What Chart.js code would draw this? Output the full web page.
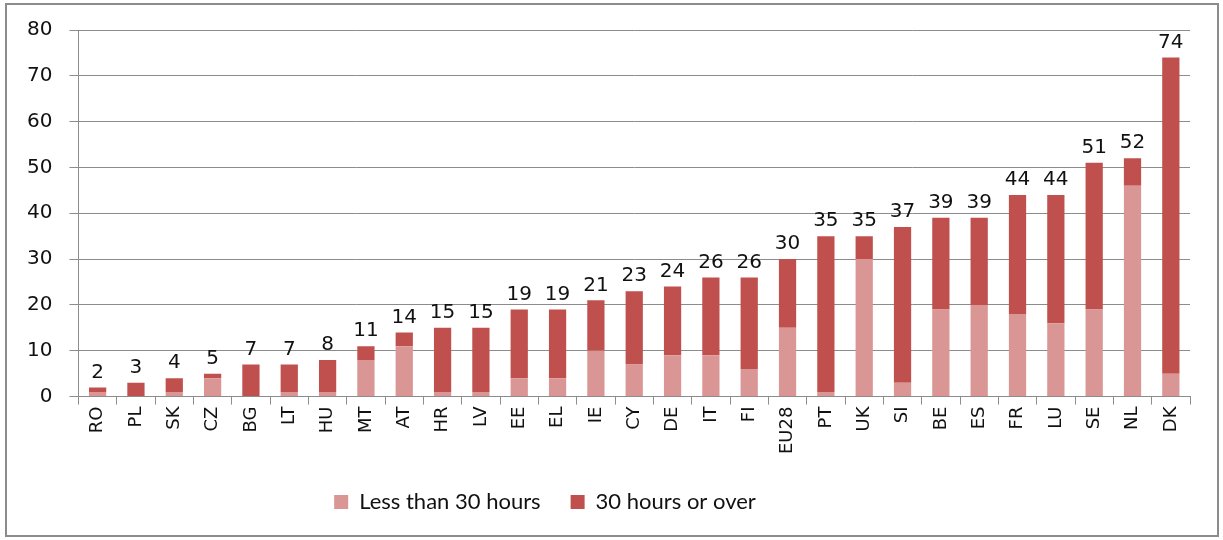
<!DOCTYPE html>
<html>
<head>
<meta charset="utf-8">
<script src="https://cdn.jsdelivr.net/npm/chart.js@4/dist/chart.umd.min.js"></script>
<style>
    html, body { margin: 0; padding: 0; background: #fff; }
    #wrap { position: relative; width: 1223px; height: 540px; }
    #frame { position: absolute; left: 5px; top: 3px; width: 1210px; height: 530px; border: 2px solid #8c8c8c; pointer-events: none; }
    canvas { position: absolute; left: 0; top: 0; }
</style>
</head>
<body>
<div id="wrap">
    <canvas id="chart" width="1223" height="540"></canvas>
    <div id="frame"></div>
</div>
<script>
const countries = ["RO", "PL", "SK", "CZ", "BG", "LT", "HU", "MT", "AT", "HR", "LV", "EE", "EL", "IE", "CY", "DE", "IT", "FI", "EU28", "PT", "UK", "SI", "BE", "ES", "FR", "LU", "SE", "NL", "DK"];
const totals = [2, 3, 4, 5, 7, 7, 8, 11, 14, 15, 15, 19, 19, 21, 23, 24, 26, 26, 30, 35, 35, 37, 39, 39, 44, 44, 51, 52, 74];
const lessThan30 = [1, 0, 1, 4, 0, 1, 1, 8, 11, 1, 1, 4, 4, 10, 7, 9, 9, 6, 15, 1, 30, 3, 19, 20, 18, 16, 19, 46, 5];
const thirtyOrOver = totals.map((t, i) => t - lessThan30[i]);
const yTicks = [0, 10, 20, 30, 40, 50, 60, 70, 80];

// total labels drawn above each stacked bar
const totalLabels = {
    id: 'totalLabels',
    afterDatasetsDraw(chart) {
        const ctx = chart.ctx;
        const meta = chart.getDatasetMeta(1);
        ctx.save();
        ctx.font = '20px "DejaVu Sans"';
        ctx.fillStyle = '#111';
        ctx.textAlign = 'center';
        ctx.textBaseline = 'bottom';
        meta.data.forEach((bar, i) => {
            ctx.fillText(totals[i], bar.x, bar.y - 5);
        });
        ctx.restore();
    }
};

// legend sits a bit left of centre and a little lower in the original
const legendShift = {
    id: 'legendShift',
    afterLayout(chart) {
        const lg = chart.legend;
        lg.left -= 55; lg.right -= 55;
        lg.top += 5; lg.bottom += 5;
    }
};

new Chart(document.getElementById('chart').getContext('2d'), {
    type: 'bar',
    data: {
        labels: countries,
        datasets: [{
            label: 'Less than 30 hours',
            data: lessThan30,
            backgroundColor: '#D99694'
        }, {
            label: '30 hours or over',
            data: thirtyOrOver,
            backgroundColor: '#C0504D'
        }]
    },
    options: {
        responsive: false,
        animation: false,
        layout: { padding: { left: 10, right: 33, top: 30, bottom: 22 } },
        datasets: { bar: { categoryPercentage: 1, barPercentage: 0.45 } },
        scales: {
            x: {
                stacked: true,
                grid: { display: true, drawOnChartArea: false, color: '#8c8c8c', tickLength: 8, offset: true },
                border: { color: '#8c8c8c' },
                ticks: { minRotation: 90, maxRotation: 90, color: '#111', font: { family: 'DejaVu Sans', size: 18 }, padding: 2 }
            },
            y: {
                stacked: true,
                min: 0,
                max: 80,
                afterBuildTicks(axis) { axis.ticks = yTicks.map(v => ({ value: v })); },
                grid: { color: '#8c8c8c', tickLength: 9 },
                border: { color: '#8c8c8c' },
                ticks: { color: '#111', font: { family: 'DejaVu Sans', size: 20 }, padding: 17 }
            }
        },
        plugins: {
            legend: {
                position: 'bottom',
                labels: { boxWidth: 14, boxHeight: 14, padding: 30, color: '#111', font: { family: 'Lato', size: 22 } }
            },
            tooltip: { enabled: false }
        }
    },
    plugins: [totalLabels, legendShift]
});
</script>
</body>
</html>
